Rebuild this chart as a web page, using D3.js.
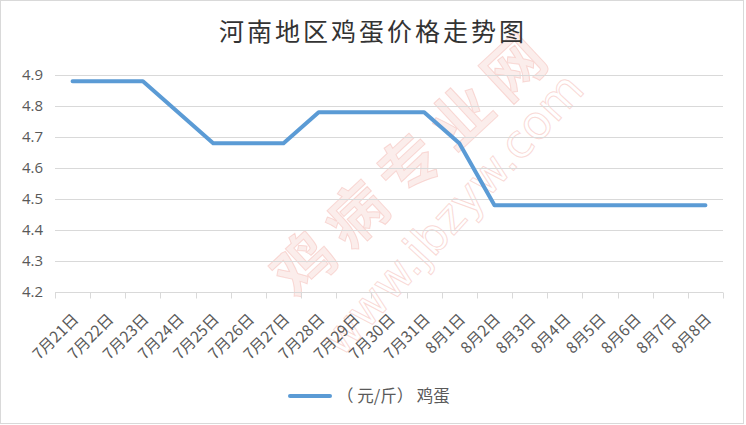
<!DOCTYPE html>
<html><head><meta charset="utf-8">
<script src="https://cdn.jsdelivr.net/npm/d3@7"></script>
<style>
html,body{margin:0;padding:0;background:#fff;}
svg{display:block;}
</style></head>
<body>
<svg id="c" width="746" height="425"></svg>
<script>
const title = "河南地区鸡蛋价格走势图";
const seriesName = "（ 元/斤） 鸡蛋";
const categories = ["7月21日","7月22日","7月23日","7月24日","7月25日","7月26日","7月27日","7月28日","7月29日","7月30日","7月31日","8月1日","8月2日","8月3日","8月4日","8月5日","8月6日","8月7日","8月8日"];
const prices = [4.88,4.88,4.88,4.78,4.68,4.68,4.68,4.78,4.78,4.78,4.78,4.68,4.48,4.48,4.48,4.48,4.48,4.48,4.48];
const yTicks = [4.2,4.3,4.4,4.5,4.6,4.7,4.8,4.9];

const svg = d3.select("#c");
const W = 746, H = 425;
const m = {left:55, right:23, top:75, bottom:133};
const cjk = "'Noto Sans CJK SC','Noto Sans',sans-serif";
const txt = "#595959";

svg.append("rect").attr("x",0.5).attr("y",0.5).attr("width",W-3).attr("height",H-2)
  .attr("fill","#fff").attr("stroke","#d9d9d9").attr("stroke-width",1);

// watermark
const wm = svg.append("g").attr("pointer-events","none");
wm.append("text").attr("transform","translate(410,158) rotate(-43)")
  .attr("text-anchor","middle").attr("dominant-baseline","central")
  .attr("font-family",cjk).attr("font-weight","bold").attr("font-size",60)
  .attr("letter-spacing",12)
  .attr("fill","#f8dcd8").attr("fill-opacity",0.5).attr("stroke","#f3b3ad").attr("stroke-opacity",0.45)
  .text("鸡病专业网");
wm.append("text").attr("transform","translate(452,214) rotate(-47.5)")
  .attr("text-anchor","middle").attr("dominant-baseline","central")
  .attr("font-family","'DejaVu Sans',sans-serif").attr("font-size",46)
  .attr("fill","none").attr("stroke","#f3b3ad").attr("stroke-opacity",0.5).attr("stroke-width",1)
  .text("www.jbzyw.com");

const x = d3.scaleBand().domain(categories).range([m.left, W-m.right]);
const y = d3.scaleLinear().domain([4.2,4.9]).range([H-m.bottom, m.top]);

// gridlines
svg.append("g").selectAll("line").data(yTicks.slice(1)).join("line")
  .attr("x1",m.left).attr("x2",W-m.right)
  .attr("y1",d=>Math.round(y(d))+0.5).attr("y2",d=>Math.round(y(d))+0.5)
  .attr("stroke","#d9d9d9").attr("stroke-width",1);

// y labels
svg.append("g").selectAll("text").data(yTicks).join("text")
  .attr("x",43).attr("y",d=>y(d)).attr("dy","0.35em").attr("text-anchor","end")
  .attr("font-family","'Open Sans','Liberation Sans',sans-serif").attr("font-size",15).attr("fill",txt)
  .text(d=>d3.format(".1f")(d));

// x axis
const xAxis = svg.append("g").attr("transform",`translate(0,${Math.round(y(4.2))+0.5})`);
xAxis.append("line").attr("x1",m.left).attr("x2",W-m.right).attr("stroke","#d9d9d9");
const bounds = categories.map(c=>x(c)).concat([x(categories[categories.length-1])+x.bandwidth()]);
xAxis.selectAll("line.t").data(bounds).join("line").attr("class","t")
  .attr("x1",d=>Math.round(d)+0.5).attr("x2",d=>Math.round(d)+0.5).attr("y1",0).attr("y2",6)
  .attr("stroke","#d9d9d9");
xAxis.selectAll("text").data(categories).join("text")
  .attr("transform",d=>`translate(${x(d)+x.bandwidth()/2+3},${24}) rotate(-45)`)
  .attr("text-anchor","end").attr("dy","0.35em")
  .attr("font-family",cjk).attr("font-size",15.5).attr("fill",txt)
  .text(d=>d);

// line
const line = d3.line().x((d,i)=>x(categories[i])+x.bandwidth()/2).y(d=>y(d));
svg.append("path").datum(prices).attr("d",line)
  .attr("fill","none").attr("stroke","#5b9bd5").attr("stroke-width",4)
  .attr("stroke-linejoin","round").attr("stroke-linecap","round");

// title
svg.append("text").attr("x",373).attr("y",32).attr("dy","0.35em").attr("text-anchor","middle")
  .attr("font-family",cjk).attr("font-size",25).attr("fill","#333").attr("letter-spacing",3)
  .text(title);

// legend
const lg = svg.append("g");
lg.append("line").attr("x1",290).attr("x2",330).attr("y1",396).attr("y2",396)
  .attr("stroke","#5b9bd5").attr("stroke-width",4).attr("stroke-linecap","round");
lg.append("text").attr("x",337).attr("y",396).attr("dy","0.35em")
  .attr("font-family",cjk).attr("font-size",16.5).attr("fill",txt).text(seriesName);
</script>
</body></html>
